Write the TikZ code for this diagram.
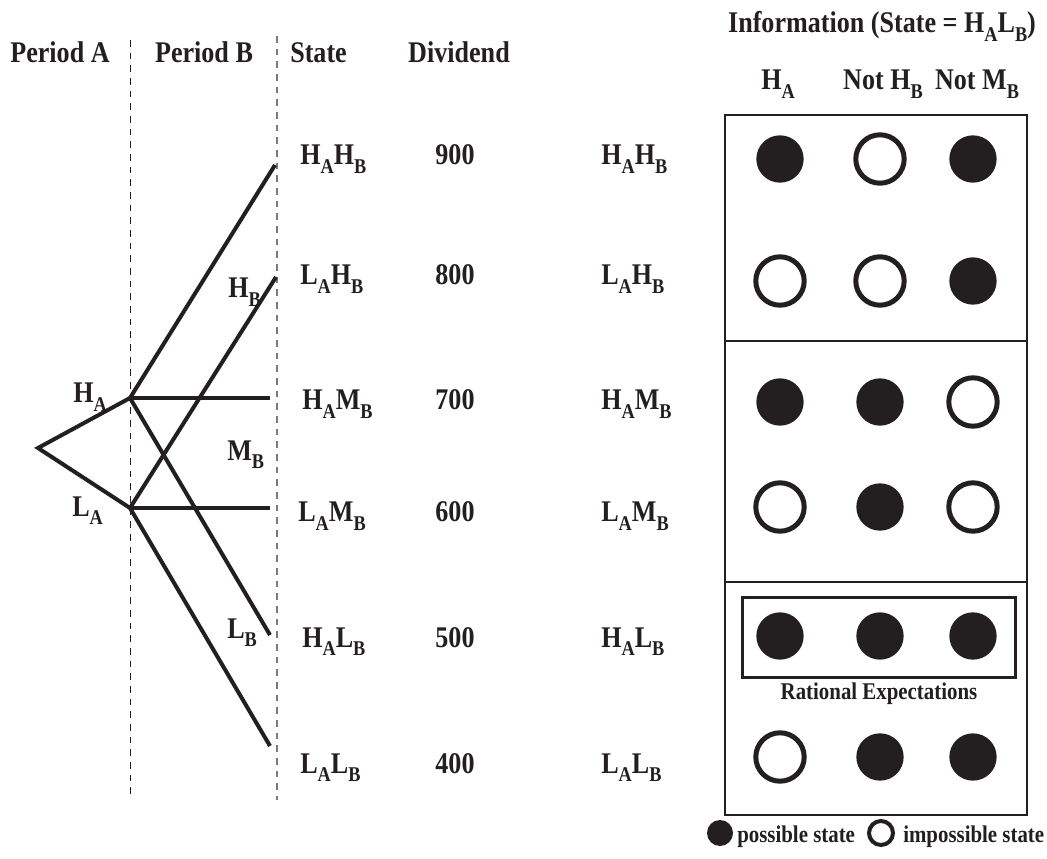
\documentclass[tikz,border=0pt]{standalone}
\usepackage{fontspec}
\setmainfont{Liberation Serif}[FakeStretch=0.87]
\definecolor{ink}{HTML}{231F20}
\definecolor{dashgray}{HTML}{7A7A7A}
% lowered, reduced subscript letter as in H_A
\newcommand{\lowsub}[1]{\raisebox{-0.27em}{\scalebox{0.7}{#1}}}

\begin{document}
\begin{tikzpicture}[x=0.75pt,y=-0.75pt,
  lbl/.style={inner sep=0pt, text=ink, font=\fontsize{22.5}{26}\selectfont\bfseries},
  small/.style={inner sep=0pt, text=ink, font=\fontsize{18}{21}\selectfont\bfseries},
  branch/.style={draw=ink, line width=3pt},
  divider/.style={line width=0.9pt, dash pattern=on 5pt off 4.5pt},
  frame/.style={draw=ink, line width=1.5pt},
  yes/.style={circle, fill=ink, inner sep=0pt, minimum size=35.5pt},
  no/.style={circle, draw=ink, line width=3.75pt, fill=white, inner sep=0pt, minimum size=36.3pt},
]
\fill[white] (0,0) rectangle (1047,859);
\useasboundingbox (0,0) rectangle (1047,859);

% period separators
\coordinate (d1t) at (130.5,40);  \coordinate (d1b) at (130.5,797);
\coordinate (d2t) at (277,36);    \coordinate (d2b) at (277,800);
\draw[divider, draw=ink] (d1t) -- (d1b);
\draw[divider, draw=dashgray] (d2t) -- (d2b);

% column headings
\node[lbl, anchor=base] (hpa) at (60,63) {Period A};
\node[lbl, anchor=base] (hpb) at (204,63) {Period B};
\node[lbl, anchor=base west] (hst) at (290,63) {State};
\node[lbl, anchor=base] (hdv) at (459,63) {Dividend};
\node[lbl, anchor=base] (hinfo) at (882,33) {Information (State = H\lowsub{A}L\lowsub{B})};
\node[lbl, anchor=base] (hcol1) at (778,90) {H\lowsub{A}};
\node[lbl, anchor=base] (hcol2) at (883,90) {Not H\lowsub{B}};
\node[lbl, anchor=base] (hcol3) at (977,90) {Not M\lowsub{B}};

% event tree
\coordinate (root) at (38,448);
\coordinate (HA) at (130,398);
\coordinate (LA) at (130,508);
\coordinate (eHH) at (275,165);
\coordinate (eLH) at (276,277);
\coordinate (eHM) at (270,398);
\coordinate (eLM) at (270,508);
\coordinate (eHL) at (270,635);
\coordinate (eLL) at (270,746);
\draw[branch] (HA) -- (root) -- (LA);
\draw[branch] (HA) -- (eHH);
\draw[branch] (HA) -- (eHM);
\draw[branch] (HA) -- (eHL);
\draw[branch] (LA) -- (eLH);
\draw[branch] (LA) -- (eLM);
\draw[branch] (LA) -- (eLL);

\node[lbl, anchor=base west] (tHA) at (73,403) {H\lowsub{A}};
\node[lbl, anchor=base west] (tLA) at (72,516) {L\lowsub{A}};
\node[lbl, anchor=base west] (tHB) at (228,298) {H\lowsub{B}};
\node[lbl, anchor=base west] (tMB) at (227,460) {M\lowsub{B}};
\node[lbl, anchor=base west] (tLB) at (227,638) {L\lowsub{B}};

% states, dividends and repeated state names
\node[lbl, anchor=base west] (sHH) at (300,165) {H\lowsub{A}H\lowsub{B}};
\node[lbl, anchor=base west] (sLH) at (300,285) {L\lowsub{A}H\lowsub{B}};
\node[lbl, anchor=base west] (sHM) at (302,410) {H\lowsub{A}M\lowsub{B}};
\node[lbl, anchor=base west] (sLM) at (298,522) {L\lowsub{A}M\lowsub{B}};
\node[lbl, anchor=base west] (sHL) at (302,647) {H\lowsub{A}L\lowsub{B}};
\node[lbl, anchor=base west] (sLL) at (300,773) {L\lowsub{A}L\lowsub{B}};

\node[lbl, anchor=base] (v900) at (455,165) {900};
\node[lbl, anchor=base] (v800) at (455,285) {800};
\node[lbl, anchor=base] (v700) at (455,410) {700};
\node[lbl, anchor=base] (v600) at (455,522) {600};
\node[lbl, anchor=base] (v500) at (455,647) {500};
\node[lbl, anchor=base] (v400) at (455,773) {400};

\node[lbl, anchor=base west] (rHH) at (601,165) {H\lowsub{A}H\lowsub{B}};
\node[lbl, anchor=base west] (rLH) at (601,285) {L\lowsub{A}H\lowsub{B}};
\node[lbl, anchor=base west] (rHM) at (601,410) {H\lowsub{A}M\lowsub{B}};
\node[lbl, anchor=base west] (rLM) at (601,522) {L\lowsub{A}M\lowsub{B}};
\node[lbl, anchor=base west] (rHL) at (601,647) {H\lowsub{A}L\lowsub{B}};
\node[lbl, anchor=base west] (rLL) at (601,773) {L\lowsub{A}L\lowsub{B}};

% information panel
\draw[frame] (725,115) rectangle (1027,815);
\draw[frame] (725,341) -- (1027,341);
\draw[frame] (725,582) -- (1027,582);
\draw[draw=ink, line width=2.25pt] (742,597) rectangle (1015,677);
\node[small, anchor=base] (re) at (879,699) {Rational Expectations};

\foreach \r/\y/\a/\b/\c in {1/159/yes/no/yes, 2/281/no/no/yes, 3/402/yes/yes/no,
                            4/507/no/yes/no, 5/636/yes/yes/yes, 6/757/no/yes/yes}{
  \node[\a] (c\r a) at (780,\y) {};
  \node[\b] (c\r b) at (880,\y) {};
  \node[\c] (c\r c) at (973,\y) {};
}

% legend
\node[circle, fill=ink, inner sep=0pt, minimum size=19.5pt] (kyes) at (720,833) {};
\node[small, anchor=base west] (kyestxt) at (737,842) {possible state};
\node[circle, draw=ink, line width=3pt, inner sep=0pt, minimum size=18pt] (kno) at (881,833) {};
\node[small, anchor=base west] (knotxt) at (903,842) {impossible state};
\end{tikzpicture}
\end{document}
